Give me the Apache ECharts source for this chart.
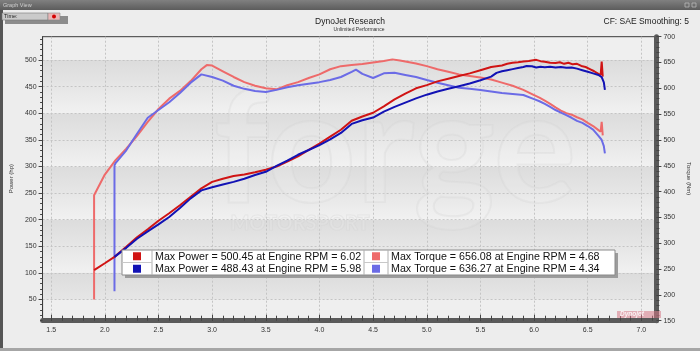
<!DOCTYPE html>
<html>
<head>
<meta charset="utf-8">
<script src="https://cdn.jsdelivr.net/npm/echarts@6/dist/echarts.min.js"></script>
<style>
  html, body { margin: 0; padding: 0; background: #ededed; }
  #chart { width: 700px; height: 351px; }
</style>
</head>
<body>
<div id="chart"></div>
<script>
// engine rpm (x1000) vs power (hp) / torque (Nm), two runs
const powerRed = [
  [1.90,105],[2.00,118],[2.09,130],[2.20,149],[2.30,167],[2.40,182],[2.50,198],[2.60,212],[2.70,227],
  [2.80,243],[2.90,259],[3.00,271],[3.10,277],[3.20,282],[3.30,285],[3.40,289],[3.50,294],[3.60,300],
  [3.70,309],[3.80,319],[3.90,331],[4.00,343],[4.10,356],[4.20,369],[4.30,386],[4.40,394],[4.50,401],
  [4.60,413],[4.70,426],[4.80,437],[4.90,447],[5.00,453],[5.10,460],[5.20,465],[5.30,470],[5.40,475],
  [5.50,481],[5.60,487],[5.70,490],[5.75,493],[5.80,495],[5.85,496],[5.90,497.5],[5.95,498.5],
  [6.02,500.45],[6.06,498],[6.10,497],[6.15,495],[6.20,494.5],[6.24,496],[6.28,493],[6.32,495],
  [6.36,492],[6.40,493],[6.44,489],[6.48,487],[6.52,483],[6.56,479],[6.60,474],[6.62,472],[6.63,497],[6.64,469]
]
const powerBlue = [
  [2.09,130],[2.20,147],[2.30,164],[2.40,178],[2.50,191],[2.60,205],[2.70,222],[2.80,240],[2.90,255],
  [3.00,261],[3.10,266],[3.20,271],[3.30,277],[3.40,284],[3.50,290],[3.60,301],[3.70,311],[3.80,322],
  [3.90,331],[4.00,340],[4.10,351],[4.20,363],[4.30,380],[4.40,387],[4.50,392],[4.60,403],[4.70,412],
  [4.80,420],[4.90,428],[5.00,435],[5.10,441],[5.20,446],[5.30,451],[5.40,456],[5.50,462],[5.60,469],
  [5.65,476],[5.70,479],[5.75,481],[5.80,483],[5.85,485],[5.90,487],[5.93,489],[5.98,488.43],[6.02,486],
  [6.06,487.5],[6.10,486.5],[6.15,487.5],[6.20,486],[6.25,487],[6.30,485.5],[6.35,486],[6.40,484],
  [6.45,481],[6.50,478],[6.55,475],[6.60,472],[6.63,468],[6.65,458],[6.66,444]
]
const torqueRed = [
  [1.90,191],[1.90,393],[2.00,433],[2.10,461],[2.20,483],[2.30,508],[2.40,535],[2.50,560],[2.60,580],
  [2.70,595],[2.80,614],[2.90,637],[2.95,645],[3.00,644],[3.10,633],[3.20,622],[3.30,612],[3.40,605],
  [3.50,600],[3.60,598],[3.70,606],[3.80,612],[3.90,620],[4.00,627],[4.10,637],[4.20,643],[4.30,645],
  [4.40,647],[4.50,650],[4.60,653],[4.68,656.08],[4.75,654],[4.80,652],[4.90,648],[5.00,643],[5.10,637],
  [5.20,632],[5.30,627],[5.40,624],[5.50,621],[5.60,617],[5.70,611],[5.80,605],[5.90,597],[6.00,587],
  [6.05,582],[6.10,576],[6.15,570],[6.20,563],[6.25,557],[6.30,552],[6.35,549],[6.40,544],[6.45,540],
  [6.50,533],[6.55,527],[6.60,519],[6.62,516],[6.63,535],[6.64,509]
]
const torqueBlue = [
  [2.09,207],[2.09,451],[2.10,455],[2.20,480],[2.30,512],[2.40,543],[2.50,558],[2.60,573],[2.70,591],
  [2.80,611],[2.90,627],[3.00,622],[3.10,615],[3.20,605],[3.30,599],[3.40,595],[3.50,593],[3.60,597],
  [3.70,602],[3.80,606],[3.90,609],[4.00,612],[4.10,616],[4.20,622],[4.30,632],[4.34,636.27],[4.40,628],
  [4.50,620],[4.60,629],[4.70,630],[4.80,626],[4.90,622],[5.00,616],[5.10,611],[5.20,606],[5.30,601],
  [5.40,599],[5.50,597],[5.60,594],[5.70,591],[5.80,589],[5.90,587],[6.00,579],[6.05,575],[6.10,570],
  [6.15,564],[6.20,558],[6.25,553],[6.30,548],[6.35,543],[6.40,537],[6.45,533],[6.50,527],[6.55,520],
  [6.60,508],[6.63,500],[6.65,488],[6.66,474]
]

const rpmTicks = [1.5, 2.0, 2.5, 3.0, 3.5, 4.0, 4.5, 5.0, 5.5, 6.0, 6.5, 7.0]
const powerTicks = [50, 100, 150, 200, 250, 300, 350, 400, 450, 500]
const legendLabels = [
  'Max Power = 500.45 at Engine RPM = 6.02',
  'Max Power = 488.43 at Engine RPM = 5.98',
  'Max Torque = 656.08 at Engine RPM = 4.68',
  'Max Torque = 636.27 at Engine RPM = 4.34',
]
const COLORS = { powerRed: '#d01414', powerBlue: '#1212b4', torqueRed: '#ee6a6a', torqueBlue: '#6b6be6' }

const rpmMinor = []
for (let i = 15; i <= 71; i++) rpmMinor.push(i / 10)
const powerMinor = []
for (let v = 10; v <= 540; v += 10) powerMinor.push(v)

const FONT = '"Liberation Sans", Arial, sans-serif'
const grad = (a, b) => new echarts.graphic.LinearGradient(0, 0, 0, 1, [
  { offset: 0, color: a }, { offset: 1, color: b },
])

const chart = echarts.init(document.getElementById('chart'), null, { renderer: 'canvas' })

// legend box (drawn as graphics)
const LX = 122, LY = 250, LW = 493, RH = 12.5
const legendGraphics = [
  { type: 'rect', shape: { x: LX + 3, y: LY + 3, width: LW, height: RH * 2 }, style: { fill: '#9c9c9c' }, z: 100 },
  { type: 'rect', shape: { x: LX, y: LY, width: LW, height: RH * 2 }, style: { fill: '#fff', stroke: '#8a8a8a', lineWidth: 1 }, z: 101 },
  { type: 'line', shape: { x1: LX + 30, y1: LY, x2: LX + 30, y2: LY + RH * 2 }, style: { stroke: '#b0b0b0' }, z: 102 },
  { type: 'line', shape: { x1: 364, y1: LY, x2: 364, y2: LY + RH * 2 }, style: { stroke: '#b0b0b0' }, z: 102 },
  { type: 'line', shape: { x1: 388, y1: LY, x2: 388, y2: LY + RH * 2 }, style: { stroke: '#b0b0b0' }, z: 102 },
  { type: 'line', shape: { x1: LX, y1: LY + RH, x2: LX + 30, y2: LY + RH }, style: { stroke: '#c8c8c8' }, z: 102 },
  { type: 'line', shape: { x1: 364, y1: LY + RH, x2: 388, y2: LY + RH }, style: { stroke: '#c8c8c8' }, z: 102 },
]
const legendCells = [
  { sx: LX + 11, tx: LX + 33, row: 0, color: COLORS.powerRed, label: legendLabels[0] },
  { sx: LX + 11, tx: LX + 33, row: 1, color: COLORS.powerBlue, label: legendLabels[1] },
  { sx: 372, tx: 391, row: 0, color: COLORS.torqueRed, label: legendLabels[2] },
  { sx: 372, tx: 391, row: 1, color: COLORS.torqueBlue, label: legendLabels[3] },
]
legendCells.forEach(c => {
  const cy = LY + RH * c.row + RH / 2
  legendGraphics.push({ type: 'rect', shape: { x: c.sx, y: cy - 4, width: 8, height: 8 }, style: { fill: c.color }, z: 103 })
  legendGraphics.push({
    type: 'text', x: c.tx, y: cy + 0.5, z: 103,
    style: { text: c.label, fill: '#111', font: '10.7px ' + FONT, textVerticalAlign: 'middle' },
  })
})

const option = {
  backgroundColor: '#ededed',
  animation: false,
  grid: {
    left: 27.5, right: 32.5, top: 36.7, bottom: 30.3,
    show: true, backgroundColor: '#efefef', borderColor: '#3a3a3a', borderWidth: 1,
  },
  xAxis: [
    {
      type: 'value', min: 1.42, max: 7.14, position: 'bottom',
      axisLine: { onZero: false, lineStyle: { color: '#5a5a5a', width: 5 } },
      axisTick: { inside: true, length: 6, customValues: rpmTicks, lineStyle: { color: '#444' } },
      axisLabel: { customValues: rpmTicks, formatter: v => v.toFixed(1), fontSize: 7, color: '#333', margin: 6, fontFamily: FONT },
      splitLine: { show: true, lineStyle: { type: [2, 2], color: '#c4c4c4' } },
    },
    {
      type: 'value', min: 1.42, max: 7.14, position: 'bottom',
      axisLine: { show: false },
      axisTick: { inside: true, length: 5, customValues: rpmMinor, lineStyle: { color: '#444' } },
      axisLabel: { show: false },
      splitLine: { show: false },
    },
  ],
  yAxis: [
    {
      type: 'value', min: 10, max: 544, position: 'left',
      name: 'Power (hp)', nameLocation: 'middle', nameGap: 20,
      nameTextStyle: { fontSize: 6, color: '#333', fontFamily: FONT },
      axisLine: { show: true, lineStyle: { color: '#3a3a3a', width: 1 } },
      axisTick: { length: 4, customValues: powerTicks, lineStyle: { color: '#444' } },
      axisLabel: { customValues: powerTicks, fontSize: 7, color: '#333', margin: 6, fontFamily: FONT },
      splitLine: { show: true, lineStyle: { type: [2, 2], color: '#c4c4c4' } },
      splitArea: { show: true, areaStyle: { color: [grad('#dcdcdc', '#e6e6e6'), grad('#e6e6e6', '#f1f1f1')] } },
    },
    {
      type: 'value', min: 150, max: 700, interval: 50, position: 'right',
      name: 'Torque (Nm)', nameLocation: 'middle', nameGap: 25, nameRotate: -90,
      nameTextStyle: { fontSize: 6, color: '#333', fontFamily: FONT },
      axisLine: { show: true, lineStyle: { color: '#5a5a5a', width: 5 } },
      axisTick: { length: 5, lineStyle: { color: '#444' } },
      minorTick: { show: true, splitNumber: 5, length: 3, lineStyle: { color: '#444' } },
      axisLabel: { fontSize: 7, color: '#333', margin: 7, fontFamily: FONT },
      splitLine: { show: false },
    },
    {
      type: 'value', min: 10, max: 544, position: 'left',
      axisLine: { show: false },
      axisTick: { length: 2.5, customValues: powerMinor, lineStyle: { color: '#444' } },
      axisLabel: { show: false },
      splitLine: { show: false },
    },
  ],
  series: [
    { name: 'Torque red', type: 'line', xAxisIndex: 0, yAxisIndex: 1, data: torqueRed, showSymbol: false,
      lineStyle: { color: COLORS.torqueRed, width: 2 }, z: 3 },
    { name: 'Torque blue', type: 'line', xAxisIndex: 0, yAxisIndex: 1, data: torqueBlue, showSymbol: false,
      lineStyle: { color: COLORS.torqueBlue, width: 2 }, z: 3 },
    { name: 'Power red', type: 'line', xAxisIndex: 0, yAxisIndex: 0, data: powerRed, showSymbol: false,
      lineStyle: { color: COLORS.powerRed, width: 2 }, z: 4 },
    { name: 'Power blue', type: 'line', xAxisIndex: 0, yAxisIndex: 0, data: powerBlue, showSymbol: false,
      lineStyle: { color: COLORS.powerBlue, width: 2 }, z: 4 },
  ],
  graphic: [
    // faint sponsor watermark behind the curves
    { type: 'text', x: 395, y: 152, z: 1, silent: true,
      style: { text: 'forge', font: 'bold 155px Lato, sans-serif', fill: 'rgba(255,255,255,0.1)',
        stroke: 'rgba(210,210,210,0.28)', lineWidth: 2, textAlign: 'center', textVerticalAlign: 'middle' } },
    { type: 'text', x: 300, y: 224, z: 1, silent: true,
      style: { text: 'MOTORSPORT', font: 'bold 20px Lato, sans-serif', fill: 'rgba(255,255,255,0.12)',
        stroke: 'rgba(205,205,205,0.3)', lineWidth: 1.2, textAlign: 'center', textVerticalAlign: 'middle' } },
    // window frame / title bar
    { type: 'rect', shape: { x: 0, y: 0, width: 700, height: 10 }, style: { fill: grad('#808080', '#5c5c5c') } },
    { type: 'text', x: 3, y: 5, style: { text: 'Graph View', fill: '#d0d0d0', font: '5.5px ' + FONT, textVerticalAlign: 'middle' } },
    { type: 'rect', shape: { x: 685, y: 3, width: 4, height: 4 }, style: { fill: 'none', stroke: '#b8b8b8', lineWidth: 0.8 } },
    { type: 'rect', shape: { x: 692, y: 3, width: 4, height: 4 }, style: { fill: 'none', stroke: '#b8b8b8', lineWidth: 0.8 } },
    { type: 'rect', shape: { x: 0, y: 10, width: 3, height: 341 }, style: { fill: '#555' } },
    { type: 'rect', shape: { x: 0, y: 348, width: 700, height: 3 }, style: { fill: '#a6a6a6' } },
    // toolbar
    { type: 'rect', shape: { x: 5, y: 16, width: 63, height: 8 }, style: { fill: '#8c8c8c' } },
    { type: 'rect', shape: { x: 2, y: 13, width: 46, height: 7 }, style: { fill: '#cacaca', stroke: '#777', lineWidth: 0.6 } },
    { type: 'rect', shape: { x: 48, y: 13, width: 12, height: 7 }, style: { fill: '#e9b6b6', stroke: '#888', lineWidth: 0.6 } },
    { type: 'circle', shape: { cx: 54, cy: 16.5, r: 2 }, style: { fill: '#d40000' } },
    { type: 'text', x: 4, y: 16.5, style: { text: 'Time:', fill: '#222', font: '5.5px ' + FONT, textVerticalAlign: 'middle' } },
    // titles
    { type: 'text', x: 350, y: 22, style: { text: 'DynoJet Research', fill: '#1a1a1a', font: '8.5px ' + FONT, textAlign: 'center', textVerticalAlign: 'middle' } },
    { type: 'text', x: 359, y: 30, style: { text: 'Unlimited Performance', fill: '#333', font: '5px ' + FONT, textAlign: 'center', textVerticalAlign: 'middle' } },
    { type: 'text', x: 689, y: 22, style: { text: 'CF: SAE Smoothing: 5', fill: '#1a1a1a', font: '8.5px ' + FONT, textAlign: 'right', textVerticalAlign: 'middle' } },
    // small dynojet mark bottom right
    { type: 'rect', shape: { x: 617, y: 311, width: 44, height: 7 }, z: 5, style: { fill: 'rgba(215,120,135,0.55)' } },
    { type: 'text', x: 620, y: 314.5, z: 6, style: { text: 'Dynojet', fill: 'rgba(255,255,255,0.85)', font: 'italic bold 6.5px ' + FONT, textVerticalAlign: 'middle' } },
    ...legendGraphics,
  ],
}

chart.setOption(option)
</script>
</body>
</html>
